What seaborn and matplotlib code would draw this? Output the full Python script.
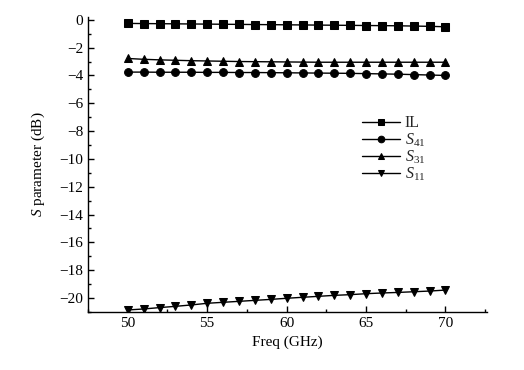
import numpy as np
import pandas as pd
import matplotlib
matplotlib.use("Agg")
import matplotlib.pyplot as plt
from matplotlib.ticker import MultipleLocator
import seaborn as sns

freq = list(range(50, 71))
il = [-0.26, -0.27, -0.28, -0.29, -0.30, -0.31, -0.32, -0.33, -0.34, -0.35, -0.36,
      -0.37, -0.38, -0.39, -0.40, -0.41, -0.42, -0.43, -0.45, -0.47, -0.50]
s41 = [-3.76, -3.76, -3.77, -3.77, -3.77, -3.78, -3.78, -3.79, -3.79, -3.80, -3.81,
       -3.82, -3.83, -3.84, -3.85, -3.87, -3.89, -3.91, -3.94, -3.97, -4.00]
s31 = [-2.78, -2.84, -2.88, -2.91, -2.94, -2.96, -2.98, -3.00, -3.01, -3.02, -3.03,
       -3.04, -3.05, -3.05, -3.05, -3.05, -3.05, -3.05, -3.05, -3.05, -3.05]
s11 = [-20.86, -20.79, -20.69, -20.60, -20.50, -20.38, -20.31, -20.24, -20.17, -20.10, -20.02,
       -19.95, -19.88, -19.81, -19.76, -19.69, -19.64, -19.60, -19.55, -19.50, -19.43]
labels = ["IL", "$S_{41}$", "$S_{31}$", "$S_{11}$"]

sns.set_theme(style="ticks")
plt.rcParams['font.family'] = ['Liberation Serif', 'DejaVu Serif']
plt.rcParams['mathtext.fontset'] = 'custom'
plt.rcParams['mathtext.rm'] = 'Liberation Serif'
plt.rcParams['mathtext.it'] = 'Liberation Serif:italic'
plt.rcParams['axes.unicode_minus'] = True

df = pd.concat([
    pd.DataFrame({"freq": freq, "val": v, "series": lab})
    for v, lab in zip([il, s41, s31, s11], labels)
])

fig = plt.figure(figsize=(5.24, 3.70), dpi=100)
ax = fig.add_axes([0.168, 0.157, 0.761, 0.797])

sns.lineplot(data=df, x="freq", y="val", style="series", hue="series",
             palette=["black"] * 4, markers=["s", "o", "^", "v"], dashes=False,
             markersize=5.6, linewidth=1.0, markeredgecolor="black", ax=ax)

ax.set_xlim(47.5, 72.6)
ax.set_ylim(-21.0, 0.2)
ax.xaxis.set_major_locator(MultipleLocator(5))
ax.xaxis.set_minor_locator(MultipleLocator(2.5))
ax.yaxis.set_major_locator(MultipleLocator(2))
ax.yaxis.set_minor_locator(MultipleLocator(1))
ax.tick_params(axis="both", which="both", direction="in", labelsize=11, colors="black")
ax.tick_params(which="major", length=4, width=1)
ax.tick_params(which="minor", length=2.5, width=1)
for s in ["top", "right"]:
    ax.spines[s].set_visible(False)
for s in ["left", "bottom"]:
    ax.spines[s].set_color("black")
    ax.spines[s].set_linewidth(1.0)

ax.set_xlabel("Freq (GHz)", fontsize=11, color="black")
ax.set_ylabel("$S$ parameter (dB)", fontsize=11, color="black", labelpad=9)

handles, labs = ax.get_legend_handles_labels()
ax.legend(handles, labs, loc="upper left", bbox_to_anchor=(0.675, 0.71),
          bbox_transform=fig.transFigure, frameon=False, markerscale=0.85,
          fontsize=11.5, handlelength=2.4, labelspacing=0.0, handletextpad=0.3,
          borderpad=0.0)

fig.savefig("out.png", dpi=100)
